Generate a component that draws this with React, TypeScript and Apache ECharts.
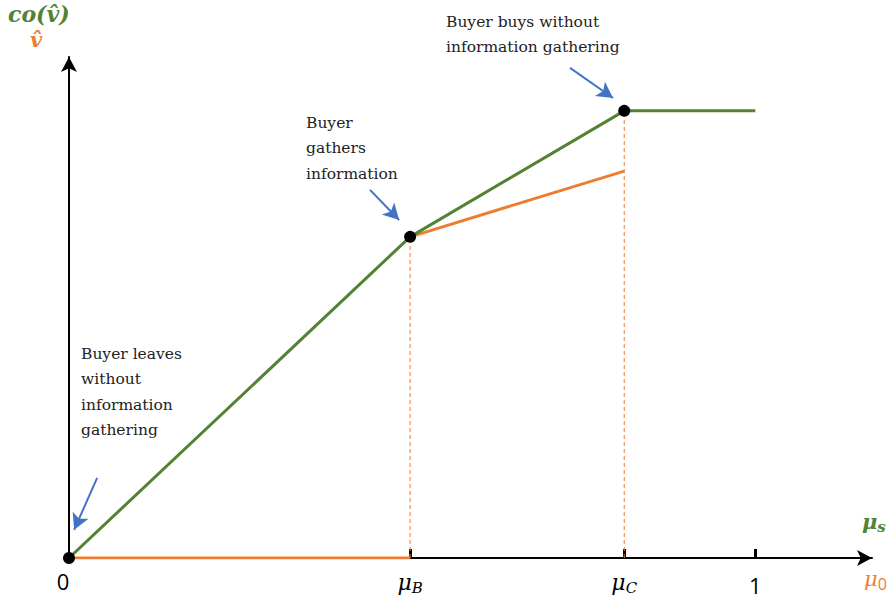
import React, { useEffect, useRef } from "react";
import * as echarts from "echarts";

// x positions of the thresholds
const xTickValues = [0.497, 0.809, 1];
const xLabelValues = [0, 0.497, 0.809, 1];
const xLabelTexts = ["0", "{mu|μ}{sub|B}", "{mu|μ}{sub|C}", "1"];

// co(v̂) – convex hull (green)
const greenX = [0, 0.497, 0.809, 1];
const greenY = [0, 0.65, 0.905, 0.905];

// v̂ (orange), two pieces
const orangeLowX = [0, 0.497];
const orangeLowY = [0, 0];
const orangeHighX = [0.497, 0.809];
const orangeHighY = [0.65, 0.783];

// black dots
const dotX = [0, 0.497, 0.809];
const dotY = [0, 0.65, 0.905];

// dashed guides
const guideX = [0.497, 0.809];
const guideTop = [0.65, 0.905];

// annotation arrows
const arrowStarts = [
  [0.041, 0.162],
  [0.4386, 0.745],
  [0.73, 0.992],
];
const arrowEnds = [
  [0.0075, 0.057],
  [0.481, 0.684],
  [0.7927, 0.931],
];

const GREEN = "#548235";
const ORANGE = "#ED7D31";
const BLUE = "#4472C4";

export default function App() {
  const ref = useRef<HTMLDivElement>(null);
  useEffect(() => {
    if (!ref.current) return;
    const chart = echarts.init(ref.current, null, { renderer: "svg" });
    const zip = (xs: number[], ys: number[]) => xs.map((x, i) => [x, ys[i]]);
    const serifAnn = {
      fontFamily: "DejaVu Serif",
      fontSize: 15.5,
      lineHeight: 25.5,
      fill: "#222",
    };
    chart.setOption({
      animation: false,
      backgroundColor: "#fff",
      grid: { left: 69, right: 18, top: 57, bottom: 42, outerBoundsMode: "none", containLabel: false },
      xAxis: {
        type: "value",
        min: 0,
        max: 1.17,
        axisLine: {
          show: true,
          symbol: ["none", "arrow"],
          symbolSize: [12, 15],
          lineStyle: { color: "#000", width: 2 },
        },
        axisTick: {
          show: true,
          customValues: xTickValues,
          inside: true,
          length: 9,
          lineStyle: { color: "#000", width: 3 },
        },
        axisLabel: {
          show: true,
          customValues: xLabelValues,
          margin: 12,
          color: "#000",
          fontFamily: "Open Sans",
          fontSize: 22,
          formatter: (v: number) => {
            const i = xLabelValues.findIndex((x) => Math.abs(x - v) < 1e-6);
            return i >= 0 ? (i === 0 ? "{zero|0}" : i === 3 ? "{one|1}" : xLabelTexts[i]) : "";
          },
          rich: {
            zero: { fontFamily: "Open Sans", fontSize: 22, color: "#000", padding: [0, 12, 0, 0] },
            one: { fontFamily: "Open Sans", fontSize: 22, color: "#000", padding: [4, 0, 0, 0] },
            mu: { fontFamily: "DejaVu Serif", fontStyle: "italic", fontSize: 22, color: "#000" },
            sub: { fontFamily: "DejaVu Serif", fontStyle: "italic", fontSize: 15, color: "#000", padding: [10, 0, 0, 0] },
          },
        },
        splitLine: { show: false },
      },
      yAxis: {
        type: "value",
        min: 0,
        max: 1.014,
        axisLine: {
          show: true,
          symbol: ["none", "arrow"],
          symbolSize: [12, 15],
          lineStyle: { color: "#000", width: 2 },
        },
        axisTick: { show: false },
        axisLabel: { show: false },
        splitLine: { show: false },
      },
      series: [
        ...guideX.map((gx, i) => ({
          type: "line",
          data: zip([gx, gx], [0, guideTop[i]]),
          symbol: "none",
          lineStyle: { color: ORANGE, width: 1, type: [4, 3] },
          z: 3,
        })),
        {
          type: "line",
          data: zip(orangeLowX, orangeLowY),
          symbol: "none",
          lineStyle: { color: ORANGE, width: 3 },
          z: 4,
        },
        {
          type: "line",
          data: zip(orangeHighX, orangeHighY),
          symbol: "none",
          lineStyle: { color: ORANGE, width: 3 },
          z: 4,
        },
        {
          type: "line",
          data: zip(greenX, greenY),
          symbol: "none",
          lineStyle: { color: GREEN, width: 3 },
          z: 5,
        },
        {
          type: "scatter",
          data: zip(dotX, dotY),
          symbol: "circle",
          symbolSize: 12,
          itemStyle: { color: "#000", opacity: 1 },
          z: 6,
        },
        {
          type: "line",
          data: [],
          z: 6,
          markLine: {
            silent: true,
            symbol: ["none", "arrow"],
            symbolSize: [13, 16],
            label: { show: false },
            lineStyle: { color: BLUE, width: 2, type: "solid" },
            data: arrowStarts.map((s, i) => [
              { coord: s },
              { coord: arrowEnds[i] },
            ]),
          },
        },
      ],
      graphic: [
        {
          type: "text",
          left: 8,
          top: 3,
          style: {
            text: "co(v\u0302)",
            fontFamily: "DejaVu Serif",
            fontStyle: "italic",
            fontWeight: "bold",
            fontSize: 22,
            fill: GREEN,
          },
        },
        {
          type: "text",
          left: 30,
          top: 29,
          style: {
            text: "v\u0302",
            fontFamily: "DejaVu Serif",
            fontStyle: "italic",
            fontWeight: "bold",
            fontSize: 21,
            fill: ORANGE,
          },
        },
        {
          type: "text",
          left: 862,
          top: 511,
          style: {
            text: "{m|μ}{s|s}",
            rich: {
              m: { fontFamily: "DejaVu Serif", fontStyle: "italic", fontWeight: "bold", fontSize: 21, fill: GREEN },
              s: { fontFamily: "DejaVu Serif", fontStyle: "italic", fontWeight: "bold", fontSize: 15, fill: GREEN, padding: [10, 0, 0, 0] },
            },
          },
        },
        {
          type: "text",
          left: 864,
          top: 568,
          style: {
            text: "{m|μ}{s|0}",
            rich: {
              m: { fontFamily: "DejaVu Serif", fontStyle: "italic", fontSize: 21, fill: ORANGE },
              s: { fontFamily: "Open Sans", fontSize: 16, fill: ORANGE, padding: [10, 0, 0, 0] },
            },
          },
        },
        {
          type: "text",
          left: 446,
          top: 9,
          style: { ...serifAnn, text: "Buyer buys without\ninformation gathering" },
        },
        {
          type: "text",
          left: 306,
          top: 110,
          style: { ...serifAnn, text: "Buyer\ngathers\ninformation" },
        },
        {
          type: "text",
          left: 81,
          top: 341,
          style: { ...serifAnn, text: "Buyer leaves\nwithout\ninformation\ngathering" },
        },
      ],
    });
    return () => chart.dispose();
  }, []);
  return (
    <div
      ref={ref}
      style={{ position: "fixed", left: 0, top: 0, width: 890, height: 600 }}
    />
  );
}
